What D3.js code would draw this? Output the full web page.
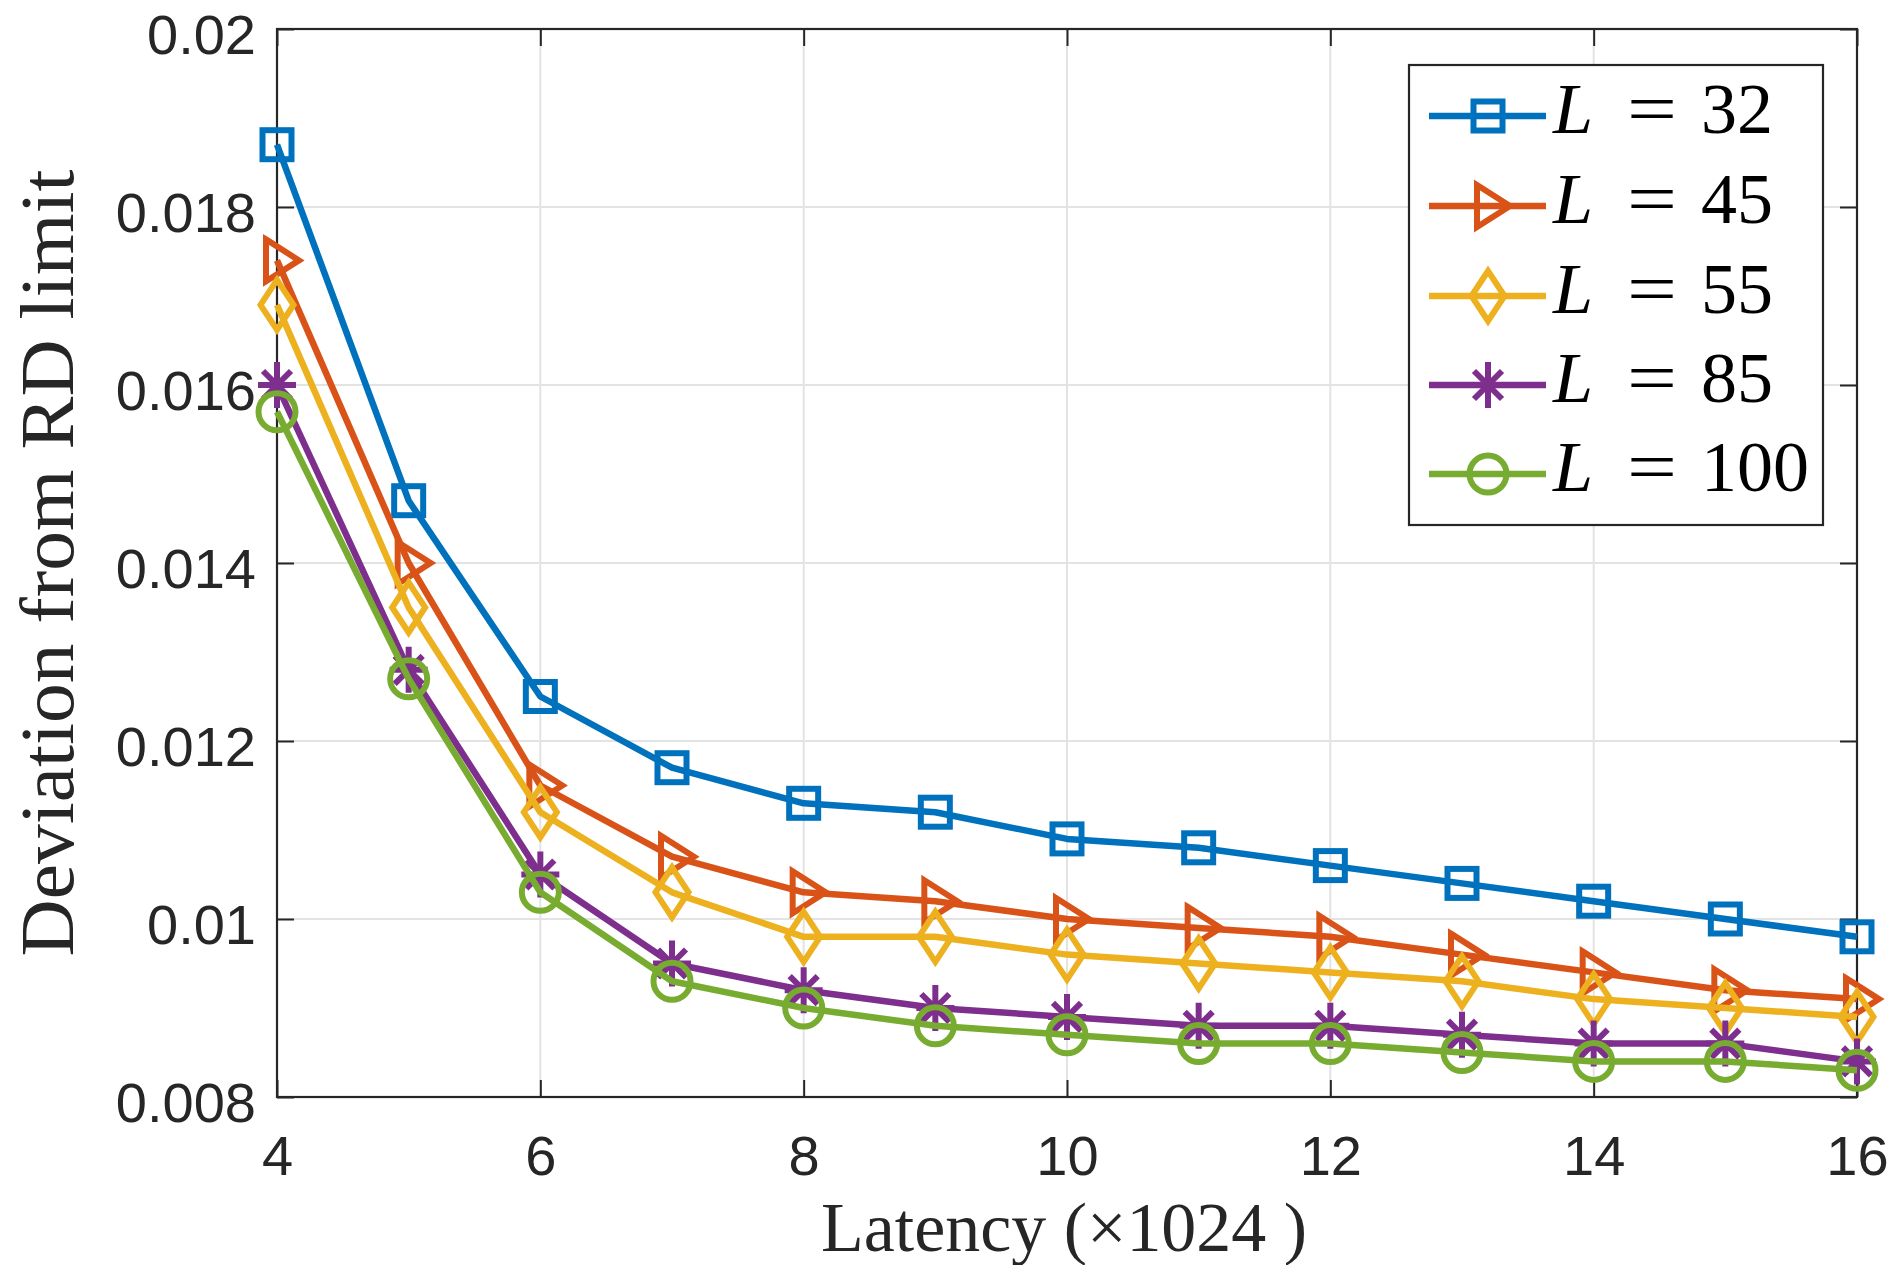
<!DOCTYPE html>
<html><head><meta charset="utf-8">
<script src="https://cdn.jsdelivr.net/npm/d3@7"></script>
<style>html,body{margin:0;padding:0;background:#fff;}svg{display:block;}</style>
</head><body>
<svg id="chart" width="1900" height="1265"></svg>
<script>
const latency = [4,5,6,7,8,9,10,11,12,13,14,15,16];
const seriesNames = ["32","45","55","85","100"];
const L32  = [0.0187,0.0147,0.0125,0.0117,0.0113,0.0112,0.0109,0.0108,0.0106,0.0104,0.0102,0.0100,0.0098];
const L45  = [0.0174,0.0140,0.0115,0.0107,0.0103,0.0102,0.0100,0.0099,0.0098,0.0096,0.0094,0.0092,0.0091];
const L55  = [0.0169,0.0135,0.0112,0.0103,0.0098,0.0098,0.0096,0.0095,0.0094,0.0093,0.0091,0.0090,0.0089];
const L85  = [0.0160,0.0128,0.0105,0.0095,0.0092,0.0090,0.0089,0.0088,0.0088,0.0087,0.0086,0.0086,0.0084];
const L100 = [0.0157,0.0127,0.0103,0.0093,0.0090,0.0088,0.0087,0.0086,0.0086,0.0085,0.0084,0.0084,0.0083];
const xTicks = [4,6,8,10,12,14,16];
const yTicks = [0.008,0.010,0.012,0.014,0.016,0.018,0.020];
const yTickLabels = ["0.008","0.01","0.012","0.014","0.016","0.018","0.02"];
const colors = ["#0072BD","#D95319","#EDB120","#7E2F8E","#77AC30"];
const markers = ["square","triangle","diamond","star","circle"];
const allSeries = [L32,L45,L55,L85,L100];

const svg = d3.select("#chart");
const pL=277, pR=1857, pT=29, pB=1097;
const x = d3.scaleLinear().domain([4,16]).range([pL,pR]);
const y = d3.scaleLinear().domain([0.008,0.020]).range([pB,pT]);

// grid
const g = svg.append("g");
g.selectAll(".vg").data(xTicks).enter().append("line")
  .attr("x1",d=>x(d)).attr("x2",d=>x(d)).attr("y1",pT).attr("y2",pB)
  .attr("stroke","#e3e3e3").attr("stroke-width",2);
g.selectAll(".hg").data(yTicks).enter().append("line")
  .attr("x1",pL).attr("x2",pR).attr("y1",d=>y(d)).attr("y2",d=>y(d))
  .attr("stroke","#e3e3e3").attr("stroke-width",2);

// axes via d3 axis (inner ticks)
const tickLen = 17;
const xAxisB = d3.axisBottom(x).tickValues(xTicks).tickSizeInner(-tickLen).tickSizeOuter(0).tickFormat(d3.format("d"));
const xAxisT = d3.axisTop(x).tickValues(xTicks).tickSizeInner(-tickLen).tickSizeOuter(0).tickFormat("");
const yAxisL = d3.axisLeft(y).tickValues(yTicks).tickSizeInner(-tickLen).tickSizeOuter(0).tickFormat((d,i)=>yTickLabels[i]);
const yAxisR = d3.axisRight(y).tickValues(yTicks).tickSizeInner(-tickLen).tickSizeOuter(0).tickFormat("");
function styleAxis(sel){
  sel.select(".domain").remove();
  sel.selectAll(".tick line").attr("stroke","#262626").attr("stroke-width",2);
  sel.selectAll(".tick text").attr("fill","#262626").attr("font-family","'Liberation Sans', Arial, sans-serif").attr("font-size",56);
}
svg.append("g").attr("transform",`translate(0,${pB})`).call(xAxisB).call(styleAxis)
  .selectAll(".tick text").attr("dy","0.71em").attr("y",38);
svg.append("g").attr("transform",`translate(0,${pT})`).call(xAxisT).call(styleAxis);
svg.append("g").attr("transform",`translate(${pL},0)`).call(yAxisL).call(styleAxis)
  .selectAll(".tick text").attr("dy","0.36em").attr("x",-21).attr("y",4);
svg.append("g").attr("transform",`translate(${pR},0)`).call(yAxisR).call(styleAxis);

// frame
svg.append("rect").attr("x",pL).attr("y",pT).attr("width",pR-pL).attr("height",pB-pT)
  .attr("fill","none").attr("stroke","#262626").attr("stroke-width",2.2);

// marker drawing
function drawMarker(sel,type,color){
  const sw=6;
  if(type==="square"){
    sel.append("rect").attr("x",-14.5).attr("y",-14.5).attr("width",29).attr("height",29)
      .attr("fill","none").attr("stroke",color).attr("stroke-width",sw);
  } else if(type==="triangle"){
    sel.append("path").attr("d","M-11,-21L22,0L-11,21Z").attr("fill","none").attr("stroke",color).attr("stroke-width",sw).attr("stroke-linejoin","miter");
  } else if(type==="diamond"){
    sel.append("path").attr("d","M0,-25L16.5,0L0,25L-16.5,0Z").attr("fill","none").attr("stroke",color).attr("stroke-width",sw).attr("stroke-linejoin","miter");
  } else if(type==="star"){
    sel.append("path").attr("d","M0,-23L0,23M-19,0L19,0M-14,-14L14,14M-14,14L14,-14").attr("fill","none").attr("stroke",color).attr("stroke-width",sw);
  } else if(type==="circle"){
    sel.append("circle").attr("r",18.5).attr("fill","none").attr("stroke",color).attr("stroke-width",sw);
  }
}

const line = d3.line().x((d,i)=>x(latency[i])).y(d=>y(d));
allSeries.forEach((vals,si)=>{
  const sg = svg.append("g");
  sg.append("path").datum(vals).attr("d",line).attr("fill","none")
    .attr("stroke",colors[si]).attr("stroke-width",6.5).attr("stroke-linejoin","round");
  sg.selectAll(".m").data(vals).enter().append("g")
    .attr("transform",(d,i)=>`translate(${x(latency[i])},${y(d)})`)
    .each(function(){ drawMarker(d3.select(this),markers[si],colors[si]); });
});

// legend
const lg = svg.append("g");
lg.append("rect").attr("x",1409).attr("y",65).attr("width",414).attr("height",460)
  .attr("fill","#fff").attr("stroke","#262626").attr("stroke-width",2.2);
const rowY = [116,206,296,385,474];
const serif = "'Liberation Serif','Times New Roman',serif";
seriesNames.forEach((name,i)=>{
  const ry=rowY[i];
  lg.append("line").attr("x1",1429).attr("x2",1546).attr("y1",ry).attr("y2",ry)
    .attr("stroke",colors[i]).attr("stroke-width",6.5);
  drawMarker(lg.append("g").attr("transform",`translate(1488,${ry})`),markers[i],colors[i]);
  lg.append("text").attr("x",1553).attr("y",ry+17).attr("font-family",serif).attr("font-size",72)
    .attr("font-style","italic").attr("fill","#000").text("L");
  lg.append("text").attr("x",1627).attr("y",ry+17).attr("font-family",serif).attr("font-size",72)
    .attr("fill","#000").attr("textLength",50).attr("lengthAdjust","spacingAndGlyphs").text("=");
  lg.append("text").attr("x",1701).attr("y",ry+17).attr("font-family",serif).attr("font-size",72)
    .attr("fill","#000").text(name);
});

// axis labels
svg.append("text").attr("x",1064).attr("y",1251).attr("text-anchor","middle")
  .attr("font-family",serif).attr("font-size",70).attr("fill","#262626")
  .attr("textLength",486).attr("lengthAdjust","spacingAndGlyphs")
  .text("Latency (×1024 )");
svg.append("text").attr("transform","translate(73,563) rotate(-90)").attr("text-anchor","middle")
  .attr("font-family",serif).attr("font-size",76).attr("fill","#262626")
  .attr("textLength",787).attr("lengthAdjust","spacingAndGlyphs")
  .text("Deviation from RD limit");
</script>
</body></html>
